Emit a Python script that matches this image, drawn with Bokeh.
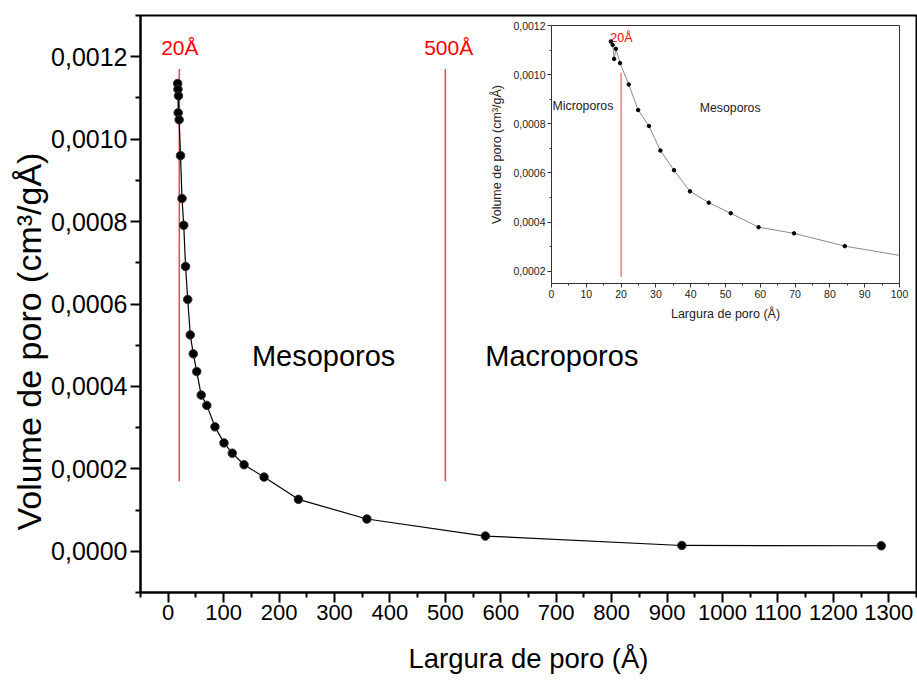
from bokeh.core.properties import value
from bokeh.embed import file_html
from bokeh.models import (ColumnDataSource, CustomJSTickFormatter, FixedTicker,
                          Range1d, Title)
from bokeh.plotting import figure
from bokeh.resources import INLINE

# Pore size distribution: pore width (Å) and pore volume (cm³/gÅ)
pore_width = [17.05, 17.6, 18.0, 18.5, 19.7, 22.2, 24.9, 28.0, 31.3, 35.2,
              39.8, 45.2, 51.5, 59.5, 69.7, 84.3, 100.6, 115.6, 136.8, 172.9,
              234.9, 358.4, 572.2, 926.6, 1286.4]
pore_volume = [0.001135, 0.001121, 0.001064, 0.001105, 0.001047, 0.000960,
               0.000856, 0.000791, 0.000691, 0.000611, 0.000525, 0.000479,
               0.000436, 0.000379, 0.000354, 0.000302, 0.000263, 0.000238,
               0.000210, 0.000180, 0.000126, 0.0000783, 0.0000370, 0.0000141,
               0.0000134]

# Pore-class boundaries (Å) and their captions
boundary_width = [20, 500]
boundary_text = ["20Å", "500Å"]
region_text = ["Mesoporos", "Macroporos"]
inset_region_text = ["Microporos", "Mesoporos"]

# Axis ticks
x_ticks = list(range(0, 1301, 100))
x_minor = list(range(-50, 1351, 100))
y_ticks = [0.0, 0.0002, 0.0004, 0.0006, 0.0008, 0.0010, 0.0012]
y_minor = [-0.0001, 0.0001, 0.0003, 0.0005, 0.0007, 0.0009, 0.0011, 0.0013]
inset_x_ticks = list(range(0, 101, 10))
inset_x_minor = list(range(5, 100, 10))
inset_y_ticks = [0.0002, 0.0004, 0.0006, 0.0008, 0.0010, 0.0012]
inset_y_minor = [0.0003, 0.0005, 0.0007, 0.0009, 0.0011]

SANS = "'Liberation Sans', Arial, sans-serif"

comma_fmt = CustomJSTickFormatter(code="return tick.toFixed(4).replace('.', ',');")

src = ColumnDataSource(dict(x=pore_width, y=pore_volume))

# ---------------- main chart ----------------
p = figure(width=917, height=680,
           x_range=Range1d(-50, 1350), y_range=Range1d(-0.0001, 0.0013),
           output_backend="svg", toolbar_location=None,
           min_border_left=140, min_border_right=1,
           min_border_top=15, min_border_bottom=88)
p.background_fill_color = "white"
p.border_fill_color = "white"
p.outline_line_color = "black"
p.outline_line_width = 2
p.xgrid.visible = False
p.ygrid.visible = False

for ax in (p.xaxis[0], p.yaxis[0]):
    ax.axis_line_width = 2
    ax.major_tick_line_width = 2
    ax.minor_tick_line_width = 2
    ax.major_tick_in = 0
    ax.major_tick_out = 10
    ax.minor_tick_in = 0
    ax.minor_tick_out = 5
    ax.major_label_text_color = "black"
    ax.axis_label_text_color = "black"
    ax.axis_label_text_font_style = "normal"

p.xaxis.ticker = FixedTicker(ticks=x_ticks, minor_ticks=x_minor)
p.xaxis.major_label_text_font = SANS
p.xaxis.major_label_text_font_size = "22px"
p.xaxis.major_label_standoff = 2
p.xaxis.axis_label = "Largura de poro (Å)"
p.xaxis.axis_label_text_font = SANS
p.xaxis.axis_label_text_font_size = "27.5px"
p.xaxis.axis_label_standoff = 20

p.yaxis.ticker = FixedTicker(ticks=y_ticks, minor_ticks=y_minor)
p.yaxis.formatter = comma_fmt
p.yaxis.major_label_text_font = SANS
p.yaxis.major_label_text_font_size = "25px"
p.yaxis.major_label_standoff = 3

# vertical axis title, started a little above the bottom of the frame
p.add_layout(Title(text="Volume de poro (cm³/gÅ)", align="left", offset=62,
                   text_font=SANS, text_font_size="34px",
                   text_font_style="normal", text_color="black",
                   standoff=2), "left")

# pore-class boundaries
p.segment(x0=boundary_width, x1=boundary_width, y0=0.00017, y1=0.00117,
          line_color="#ff2020", line_width=1.5, line_alpha=0.85)
p.text(x=[21, 506], y=[0.001223, 0.001223], text=boundary_text,
       text_color="red", text_font=value(SANS), text_font_size="21px",
       text_align="center", text_baseline="middle")
p.text(x=[151, 572], y=[0.000473, 0.000473], text=region_text,
       text_color="black", text_font=value(SANS), text_font_size="29px",
       text_align="left", text_baseline="middle")

p.line("x", "y", source=src, line_color="black", line_width=1.2)
p.scatter("x", "y", source=src, size=8.5, fill_color="black",
          line_color="#333333", line_width=1)

# ---------------- inset (zoom on 0-100 Å), floated over the top right ----------------
ins = figure(frame_width=348, frame_height=258,
             x_range=Range1d(0, 100), y_range=Range1d(0.00015, 0.0012),
             output_backend="svg", toolbar_location=None,
             min_border_left=56, min_border_right=12,
             min_border_top=7, min_border_bottom=42,
             styles={"position": "absolute", "left": "487px", "top": "18px"})
ins.background_fill_color = "white"
ins.border_fill_color = "white"
ins.outline_line_color = "#333333"
ins.outline_line_width = 1
ins.xgrid.visible = False
ins.ygrid.visible = False

for ax in (ins.xaxis[0], ins.yaxis[0]):
    ax.axis_line_color = "#333333"
    ax.major_tick_line_color = "#333333"
    ax.minor_tick_line_color = "#333333"
    ax.major_tick_in = 0
    ax.major_tick_out = 4
    ax.minor_tick_in = 0
    ax.minor_tick_out = 2
    ax.major_label_text_font = SANS
    ax.major_label_text_font_size = "10.5px"
    ax.major_label_text_color = "#222222"
    ax.major_label_standoff = 2
    ax.axis_label_text_font = SANS
    ax.axis_label_text_font_size = "12.5px"
    ax.axis_label_text_font_style = "normal"
    ax.axis_label_text_color = "#222222"
    ax.axis_label_standoff = 6

ins.xaxis.ticker = FixedTicker(ticks=inset_x_ticks, minor_ticks=inset_x_minor)
ins.xaxis.axis_label = "Largura de poro (Å)"
ins.yaxis.ticker = FixedTicker(ticks=inset_y_ticks, minor_ticks=inset_y_minor)
ins.yaxis.formatter = comma_fmt
ins.yaxis.axis_label = "Volume de poro (cm³/gÅ)"

ins.segment(x0=[boundary_width[0]], x1=[boundary_width[0]],
            y0=0.000177, y1=0.001008, line_color="red", line_width=1,
            line_alpha=0.8)
ins.text(x=[16.9], y=[0.00115], text=[boundary_text[0]], text_color="red",
         text_font=value(SANS), text_font_size="12.5px",
         text_align="left", text_baseline="middle")
ins.text(x=[0.3, 42.6], y=[0.000872, 0.000865], text=inset_region_text,
         text_color="#222222", text_font=value(SANS), text_font_size="12.3px",
         text_align="left", text_baseline="middle")
ins.line("x", "y", source=src, line_color="#8a8a8a", line_width=1)
ins.scatter("x", "y", source=src, size=3.5, fill_color="black",
            line_color="black")

open("out.html", "w").write(file_html([p, ins], INLINE))
